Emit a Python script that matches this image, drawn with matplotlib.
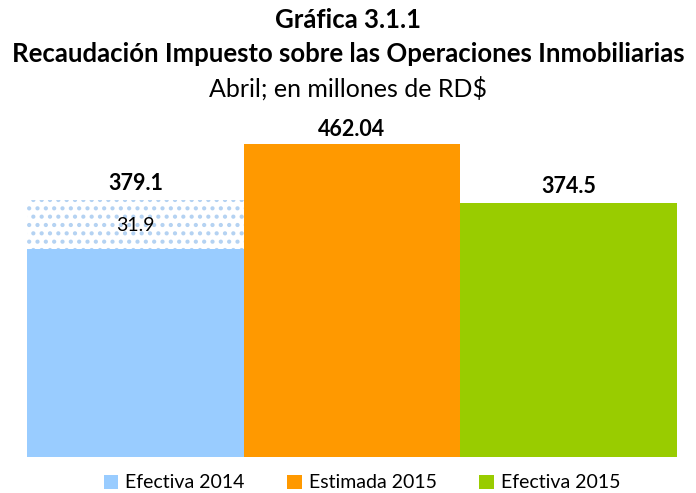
import matplotlib
matplotlib.use("Agg")
import matplotlib.pyplot as plt
from matplotlib.patches import Patch

plt.rcParams['font.family'] = ['Lato', 'DejaVu Sans']
plt.rcParams['hatch.linewidth'] = 1.8

# data
categorias = ["Efectiva 2014", "Estimada 2015", "Efectiva 2015"]
totales = [379.1, 462.04, 374.5]
etiquetas = ["379.1", "462.04", "374.5"]
base_2014 = 307.0          # solid part of the first bar
etiqueta_extra = "31.9"    # label of the dotted part
colores = ["#99CCFF", "#FF9900", "#99CC00"]

fig = plt.figure(figsize=(6.96, 4.93), dpi=100)
ax = fig.add_axes([27/696, 36.3/493, 650/696, 325/493])

x = [0, 1, 2]
# first bar: solid base + dotted part
ax.bar(x[0], base_2014, width=1.0, color=colores[0], linewidth=0)
ax.bar(x[0], totales[0] - base_2014, bottom=base_2014, width=1.0,
       facecolor="white", edgecolor="#B4D2F2", hatch="..", linewidth=0)
ax.bar(x[1:], totales[1:], width=1.0, color=colores[1:], linewidth=0)

# value labels
offs = [25, 21, 25]
for xi, t, lab, o in zip(x, totales, etiquetas, offs):
    ax.text(xi, t + o, lab, ha="center", va="center", fontsize=15.5,
            fontweight="bold")
ax.text(x[0], (base_2014 + totales[0]) / 2 - 2, etiqueta_extra,
        ha="center", va="center", fontsize=14)

ax.set_xlim(-0.5, 2.5)
ax.set_ylim(0, 480)
ax.axis("off")

fig.text(0.5, 1 - 20/493, "Gráfica 3.1.1", ha="center", va="center",
         fontsize=18.5, fontweight="bold")
fig.text(0.5, 1 - 54/493, "Recaudación Impuesto sobre las Operaciones Inmobiliarias",
         ha="center", va="center", fontsize=18.5, fontweight="bold")
fig.text(0.5, 1 - 88/493, "Abril; en millones de RD$", ha="center",
         va="center", fontsize=18)

handles = [Patch(facecolor=c, edgecolor="none") for c in colores]
fig.legend(handles, categorias, loc="center", bbox_to_anchor=(0.52, 1 - 483/493),
           ncol=3, frameon=False, fontsize=14, handlelength=0.75,
           handleheight=0.75, handletextpad=0.35, columnspacing=2.2)

fig.savefig("out.png", dpi=100)
